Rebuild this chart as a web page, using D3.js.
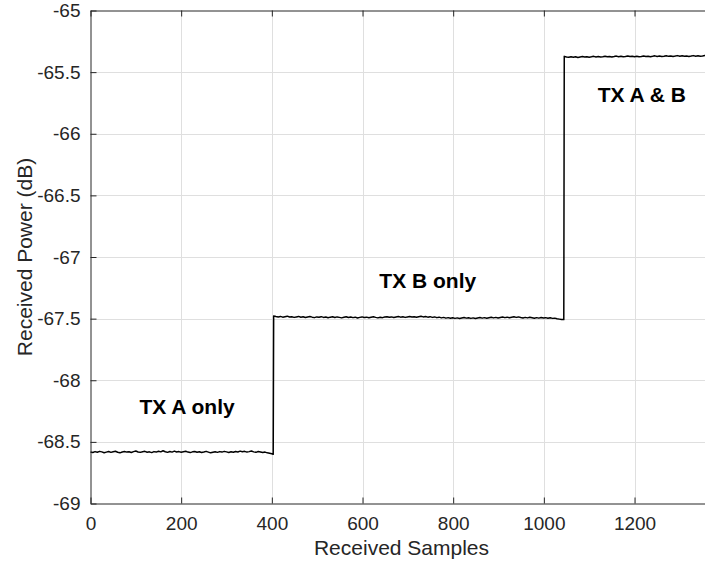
<!DOCTYPE html>
<html>
<head>
<meta charset="utf-8">
<script src="https://cdn.jsdelivr.net/npm/d3@7"></script>
<style>
  html, body { margin: 0; padding: 0; background: #fff; overflow: hidden; }
  svg { display: block; font-family: "Liberation Sans", Arial, Helvetica, sans-serif; }
</style>
</head>
<body>
<svg id="chart" width="705" height="564"></svg>
<script>
// Received power per segment, one value every 5 samples, plus the last sample before the switch.
const sampleStep = 5;

const segA = { start: 0, end: 403 };
const powerA = [
  -68.582,-68.586,-68.579,-68.584,-68.577,-68.581,-68.588,-68.583,-68.578,-68.585,
  -68.580,-68.576,-68.584,-68.589,-68.582,-68.578,-68.583,-68.580,-68.586,-68.579,
  -68.574,-68.582,-68.585,-68.580,-68.577,-68.584,-68.581,-68.587,-68.579,-68.583,
  -68.576,-68.581,-68.572,-68.580,-68.585,-68.578,-68.583,-68.575,-68.582,-68.579,
  -68.584,-68.580,-68.576,-68.583,-68.587,-68.581,-68.578,-68.584,-68.580,-68.586,
  -68.582,-68.577,-68.583,-68.589,-68.584,-68.580,-68.585,-68.579,-68.583,-68.577,
  -68.581,-68.586,-68.580,-68.584,-68.578,-68.582,-68.575,-68.580,-68.577,-68.583,
  -68.579,-68.574,-68.581,-68.585,-68.578,-68.582,-68.587,-68.583,-68.589,-68.592,-68.596,
  -68.601
];

const segB = { start: 404, end: 1044 };
const powerB = [
  -67.478,-67.483,-67.486,-67.482,-67.488,-67.484,-67.480,-67.487,-67.485,-67.490,
  -67.486,-67.482,-67.489,-67.485,-67.491,-67.487,-67.483,-67.488,-67.492,-67.486,
  -67.489,-67.484,-67.490,-67.487,-67.493,-67.488,-67.485,-67.491,-67.486,-67.490,
  -67.494,-67.489,-67.485,-67.491,-67.487,-67.492,-67.488,-67.495,-67.490,-67.486,
  -67.491,-67.488,-67.493,-67.489,-67.485,-67.490,-67.494,-67.489,-67.492,-67.487,
  -67.484,-67.489,-67.486,-67.491,-67.487,-67.483,-67.488,-67.485,-67.490,-67.486,
  -67.482,-67.487,-67.484,-67.489,-67.485,-67.481,-67.486,-67.483,-67.488,-67.484,
  -67.490,-67.486,-67.492,-67.488,-67.494,-67.490,-67.496,-67.492,-67.497,-67.493,
  -67.498,-67.494,-67.499,-67.495,-67.491,-67.496,-67.493,-67.498,-67.494,-67.499,
  -67.495,-67.491,-67.496,-67.492,-67.497,-67.493,-67.489,-67.494,-67.490,-67.495,
  -67.491,-67.487,-67.492,-67.488,-67.493,-67.489,-67.485,-67.490,-67.486,-67.491,
  -67.495,-67.490,-67.494,-67.489,-67.493,-67.497,-67.492,-67.496,-67.491,-67.495,
  -67.492,-67.497,-67.493,-67.498,-67.496,-67.501,-67.504,-67.507,
  -67.508
];

const segAB = { start: 1045, end: 1370 };
const powerAB = [
  -65.372,-65.377,-65.380,-65.376,-65.379,-65.375,-65.381,-65.377,-65.374,-65.378,
  -65.375,-65.379,-65.376,-65.372,-65.377,-65.374,-65.378,-65.375,-65.371,-65.376,
  -65.373,-65.377,-65.374,-65.370,-65.375,-65.372,-65.376,-65.373,-65.369,-65.374,
  -65.371,-65.375,-65.372,-65.376,-65.373,-65.369,-65.374,-65.371,-65.375,-65.372,
  -65.368,-65.373,-65.370,-65.374,-65.371,-65.367,-65.372,-65.369,-65.373,-65.370,
  -65.366,-65.371,-65.368,-65.372,-65.369,-65.373,-65.370,-65.366,-65.371,-65.368,
  -65.372,-65.369,-65.365,-65.370,-65.367,-65.371
];

const xTicks = [0, 200, 400, 600, 800, 1000, 1200];
const yTicks = [-69, -68.5, -68, -67.5, -67, -66.5, -66, -65.5, -65];

const labels = [
  { text: "TX A only", sample: 213, power: -68.276 },
  { text: "TX B only", sample: 744, power: -67.25 },
  { text: "TX A & B", sample: 1216, power: -65.74 }
];

// Turn a segment's values into [sample, power] points.
function toPoints(seg, values) {
  return values.map((v, i) => [Math.min(seg.start + i * sampleStep, seg.end), v]);
}
const points = [].concat(
  toPoints(segA, powerA),
  toPoints(segB, powerB),
  toPoints(segAB, powerAB)
);

const svg = d3.select("#chart");
const plotLeft = 90.5, plotRight = 712.5, plotTop = 10.5, plotBottom = 503.5;
const axisColor = "#262626";

const x = d3.scaleLinear().domain([0, 1372]).range([plotLeft, plotRight]);
const y = d3.scaleLinear().domain([-69, -65]).range([plotBottom, plotTop]);

// Grid
const grid = svg.append("g");
grid.selectAll(".gx").data(xTicks.filter(d => d > 0)).join("line")
  .attr("x1", d => Math.round(x(d)) + 0.5).attr("x2", d => Math.round(x(d)) + 0.5)
  .attr("y1", plotTop).attr("y2", plotBottom)
  .attr("stroke", "#dfdfdf").attr("stroke-width", 1);
grid.selectAll(".gy").data(yTicks.filter(d => d > -69 && d < -65)).join("line")
  .attr("x1", plotLeft).attr("x2", plotRight)
  .attr("y1", d => Math.round(y(d)) + 0.5).attr("y2", d => Math.round(y(d)) + 0.5)
  .attr("stroke", "#dfdfdf").attr("stroke-width", 1);

// Power trace
const line = d3.line().x(d => x(d[0])).y(d => y(d[1]));
svg.append("path")
  .datum(points)
  .attr("d", line)
  .attr("fill", "none")
  .attr("stroke", "#000")
  .attr("stroke-width", 1.5)
  .attr("stroke-linejoin", "round");

// Axes with inward ticks
const fmt = d => String(d);
const tickFont = "19px";

const xAxis = svg.append("g").attr("transform", `translate(0,${plotBottom})`)
  .call(d3.axisBottom(x).tickValues(xTicks).tickFormat(fmt).tickSizeInner(-6).tickSizeOuter(0).tickPadding(13));
const xTop = svg.append("g").attr("transform", `translate(0,${plotTop})`)
  .call(d3.axisTop(x).tickValues(xTicks).tickFormat("").tickSizeInner(-6).tickSizeOuter(0));
const yAxis = svg.append("g").attr("transform", `translate(${plotLeft},0)`)
  .call(d3.axisLeft(y).tickValues(yTicks).tickFormat(fmt).tickSizeInner(-6).tickSizeOuter(0).tickPadding(10));

[xAxis, xTop, yAxis].forEach(g => {
  g.select(".domain").attr("stroke", axisColor).attr("stroke-width", 1);
  g.selectAll(".tick line").attr("stroke", axisColor).attr("stroke-width", 1);
  g.selectAll(".tick text")
    .attr("fill", axisColor)
    .style("font-size", tickFont)
    .style("font-family", "'Liberation Sans', Arial, Helvetica, sans-serif");
});

// Axis titles
svg.append("text")
  .attr("x", (plotLeft + plotRight) / 2).attr("y", 555)
  .attr("text-anchor", "middle")
  .attr("fill", axisColor)
  .style("font-size", "21px")
  .text("Received Samples");

svg.append("text")
  .attr("transform", `translate(32,${(plotTop + plotBottom) / 2}) rotate(-90)`)
  .attr("text-anchor", "middle")
  .attr("fill", axisColor)
  .style("font-size", "21px")
  .text("Received Power (dB)");

// Segment annotations
svg.selectAll(".note").data(labels).join("text")
  .attr("x", d => x(d.sample))
  .attr("y", d => y(d.power))
  .attr("text-anchor", "middle")
  .attr("fill", "#000")
  .style("font-size", "21px")
  .style("font-weight", "bold")
  .text(d => d.text);
</script>
</body>
</html>
